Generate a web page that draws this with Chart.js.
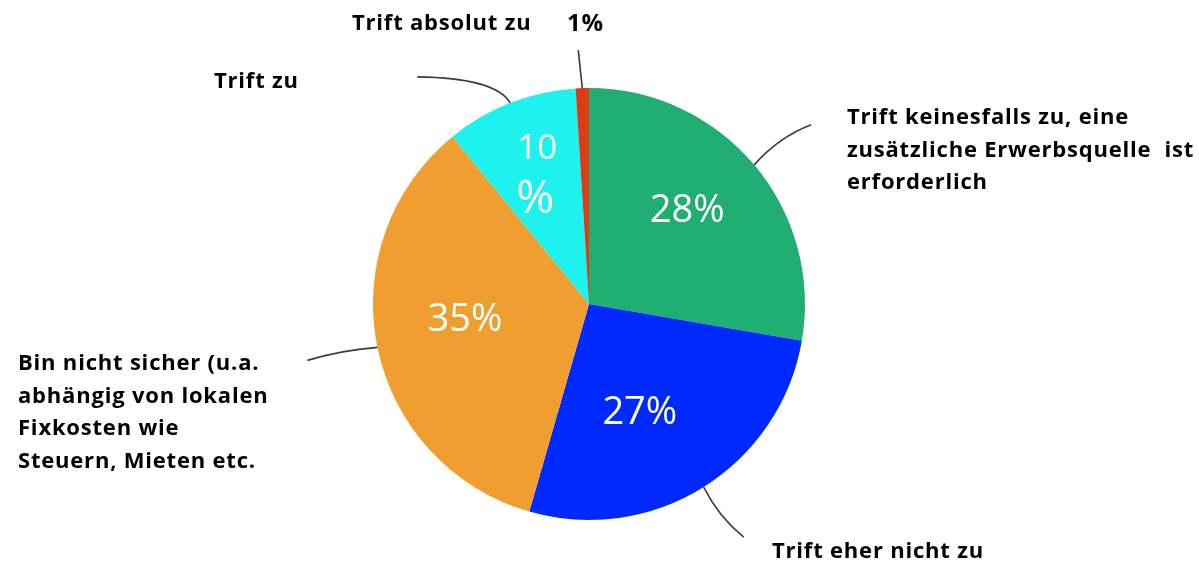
<!DOCTYPE html>
<html>
<head>
<meta charset="utf-8">
<script src="https://cdn.jsdelivr.net/npm/chart.js@4.4.0/dist/chart.umd.min.js"></script>
<style>
html,body{margin:0;padding:0;background:#fff;}
#wrap{width:1199px;height:561px;position:relative;}
</style>
</head>
<body>
<div id="wrap"><canvas id="c" width="1199" height="561"></canvas></div>
<script>
const categories = [
  "Trift keinesfalls zu, eine zusätzliche Erwerbsquelle  ist erforderlich",
  "Trift eher nicht zu",
  "Bin nicht sicher (u.a. abhängig von lokalen Fixkosten wie Steuern, Mieten etc.",
  "Trift zu",
  "Trift absolut zu"
];
const values = [28, 27, 35, 10, 1];
const valueLabels = ["28%", "27%", "35%", "10\n%", "1%"];
const colors = ["#20AE72", "#0029FF", "#F09E30", "#1EF2EE", "#DC3C14"];

// layout of outer labels (lines of text, anchor relative to chart centre, leader end offsets)
const outerLayout = [
  {lines:["Trift keinesfalls zu, eine","zusätzliche Erwerbsquelle  ist","erforderlich"], x:258, y:-186, lead:{dx:57, dy:-40, cx:25, cy:-28}},
  {lines:["Trift eher nicht zu"], x:183, y:248, lead:{dx:40, dy:50, cx:15, cy:30}},
  {lines:["Bin nicht sicher (u.a.","abhängig von lokalen","Fixkosten wie","Steuern, Mieten etc."], x:-571, y:60, lead:{dx:-70, dy:13, cx:-37, cy:3}},
  {lines:["Trift zu"], x:-375, y:-222, lead:{dx:-93, dy:-26, cx:-15, cy:-25}},
  {lines:["Trift absolut zu"], x:-237, y:-280, lead:{dx:-4, dy:-38, cx:-2, cy:-19}}
];
// inner label placement: radius fraction + pixel nudges per text line
const innerLayout = [
  {r:0.6, lines:[{dx:-1, dy:-9, size:38}]},
  {r:0.6, lines:[{dx:-18, dy:-1, size:38}]},
  {r:0.6, lines:[{dx:3, dy:-10, size:38}]},
  {r:0.72, lines:[{dx:5, dy:-10, size:35}, {dx:3, dy:41, size:46}]},
  null
];

const labelPlugin = {
  id: 'labels',
  afterDatasetsDraw(chart) {
    const ctx = chart.ctx;
    const meta = chart.getDatasetMeta(0);
    meta.data.forEach((arc, i) => {
      const p = arc.getProps(['x','y','startAngle','endAngle','outerRadius'], true);
      const mid = (p.startAngle + p.endAngle) / 2;
      const IL = innerLayout[i];
      if (IL) {
        const lx = p.x + Math.cos(mid) * p.outerRadius * IL.r;
        const ly = p.y + Math.sin(mid) * p.outerRadius * IL.r;
        const ls = valueLabels[i].split('\n');
        ctx.save();
        ctx.fillStyle = '#fff';
        ctx.textAlign = 'center';
        ctx.textBaseline = 'middle';
        ls.forEach((t, k) => {
          const o = IL.lines[k];
          ctx.font = o.size + 'px "Open Sans"';
          ctx.fillText(t, lx + o.dx, ly + o.dy);
        });
        ctx.restore();
      }
      // leader line
      const L = outerLayout[i];
      const sx = p.x + Math.cos(mid) * p.outerRadius;
      const sy = p.y + Math.sin(mid) * p.outerRadius;
      ctx.save();
      ctx.strokeStyle = '#3a3a3a';
      ctx.lineWidth = 1.6;
      ctx.beginPath();
      ctx.moveTo(sx, sy);
      ctx.quadraticCurveTo(sx + L.lead.cx, sy + L.lead.cy, sx + L.lead.dx, sy + L.lead.dy);
      ctx.stroke();
      ctx.restore();
      // outer label
      ctx.save();
      ctx.fillStyle = '#000';
      ctx.font = 'bold 22px "Open Sans"';
      try { ctx.letterSpacing = '0.8px'; } catch (e) {}
      ctx.textAlign = 'left';
      ctx.textBaseline = 'middle';
      L.lines.forEach((t, k) => {
        ctx.fillText(t, p.x + L.x, p.y + L.y + k * 32.5);
      });
      if (i === 4) {
        ctx.font = 'bold 24px "Open Sans"';
        ctx.fillText(valueLabels[4], p.x - 22, p.y + L.y);
      }
      ctx.restore();
    });
  }
};

new Chart(document.getElementById('c'), {
  type: 'pie',
  data: {
    labels: categories,
    datasets: [{
      data: values,
      backgroundColor: colors,
      borderWidth: 0
    }]
  },
  options: {
    responsive: false,
    animation: false,
    layout: {padding: {top: 88, bottom: 41, left: 300, right: 321}},
    plugins: {legend: {display: false}, tooltip: {enabled: false}}
  },
  plugins: [labelPlugin]
});
</script>
</body>
</html>
